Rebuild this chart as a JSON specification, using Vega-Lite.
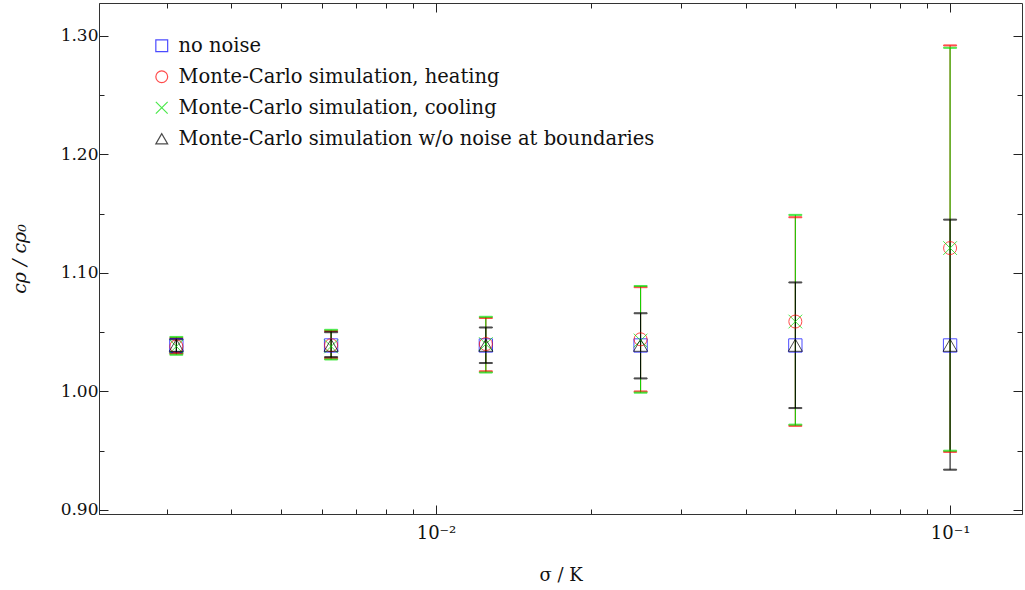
{
  "$schema": "https://vega.github.io/schema/vega-lite/v6.json",
  "width": 923,
  "height": 511,
  "autosize": "none",
  "padding": {"left": 99, "top": 3, "right": 3, "bottom": 76},
  "background": "white",
  "config": {
    "font": "DejaVu Serif",
    "view": {"stroke": "#333", "strokeWidth": 1},
    "axis": {"domainColor": "#333", "tickColor": "#222", "labelColor": "#111", "titleColor": "#111", "labelFontSize": 17, "titleFontSize": 18, "titleFontWeight": "normal", "grid": false, "labelFont": "DejaVu Serif", "titleFont": "DejaVu Serif"},
    "legend": {"labelFont": "DejaVu Serif"}
  },
  "datasets": {
    "pts": [
      {"series": "no noise", "sigma": 0.003125, "v": 1.0388, "lo": null, "hi": null},
      {"series": "no noise", "sigma": 0.00625, "v": 1.0388, "lo": null, "hi": null},
      {"series": "no noise", "sigma": 0.0125, "v": 1.0388, "lo": null, "hi": null},
      {"series": "no noise", "sigma": 0.025, "v": 1.0388, "lo": null, "hi": null},
      {"series": "no noise", "sigma": 0.05, "v": 1.0388, "lo": null, "hi": null},
      {"series": "no noise", "sigma": 0.1, "v": 1.0388, "lo": null, "hi": null},
      {"series": "Monte-Carlo simulation, heating", "sigma": 0.003125, "v": 1.038, "lo": 1.032, "hi": 1.045},
      {"series": "Monte-Carlo simulation, heating", "sigma": 0.00625, "v": 1.039, "lo": 1.028, "hi": 1.051},
      {"series": "Monte-Carlo simulation, heating", "sigma": 0.0125, "v": 1.040, "lo": 1.017, "hi": 1.062},
      {"series": "Monte-Carlo simulation, heating", "sigma": 0.025, "v": 1.044, "lo": 1.000, "hi": 1.088},
      {"series": "Monte-Carlo simulation, heating", "sigma": 0.05, "v": 1.059, "lo": 0.971, "hi": 1.147},
      {"series": "Monte-Carlo simulation, heating", "sigma": 0.1, "v": 1.121, "lo": 0.949, "hi": 1.292},
      {"series": "Monte-Carlo simulation, cooling", "sigma": 0.003125, "v": 1.038, "lo": 1.031, "hi": 1.046},
      {"series": "Monte-Carlo simulation, cooling", "sigma": 0.00625, "v": 1.038, "lo": 1.027, "hi": 1.052},
      {"series": "Monte-Carlo simulation, cooling", "sigma": 0.0125, "v": 1.040, "lo": 1.016, "hi": 1.063},
      {"series": "Monte-Carlo simulation, cooling", "sigma": 0.025, "v": 1.043, "lo": 0.999, "hi": 1.089},
      {"series": "Monte-Carlo simulation, cooling", "sigma": 0.05, "v": 1.059, "lo": 0.972, "hi": 1.149},
      {"series": "Monte-Carlo simulation, cooling", "sigma": 0.1, "v": 1.121, "lo": 0.950, "hi": 1.290},
      {"series": "Monte-Carlo simulation w/o noise at boundaries", "sigma": 0.003125, "v": 1.039, "lo": 1.033, "hi": 1.044},
      {"series": "Monte-Carlo simulation w/o noise at boundaries", "sigma": 0.00625, "v": 1.039, "lo": 1.029, "hi": 1.050},
      {"series": "Monte-Carlo simulation w/o noise at boundaries", "sigma": 0.0125, "v": 1.039, "lo": 1.024, "hi": 1.054},
      {"series": "Monte-Carlo simulation w/o noise at boundaries", "sigma": 0.025, "v": 1.039, "lo": 1.011, "hi": 1.066},
      {"series": "Monte-Carlo simulation w/o noise at boundaries", "sigma": 0.05, "v": 1.039, "lo": 0.986, "hi": 1.092},
      {"series": "Monte-Carlo simulation w/o noise at boundaries", "sigma": 0.1, "v": 1.039, "lo": 0.934, "hi": 1.145}
    ]
  },
  "data": {"name": "pts"},
  "resolve": {"axis": {"x": "independent", "y": "independent"}},
  "layer": [
    {
      "transform": [{"filter": "datum.lo != null"}],
      "mark": {"type": "rule", "strokeWidth": 1},
      "encoding": {
        "x": {"field": "sigma", "type": "quantitative", "scale": {"type": "log", "domain": [0.00221, 0.138], "nice": false},
          "axis": {"orient": "bottom", "title": "σ / K", "titlePadding": 20, "values": [0.003,0.004,0.005,0.006,0.007,0.008,0.009,0.01,0.02,0.03,0.04,0.05,0.06,0.07,0.08,0.09,0.1],
            "labelExpr": "datum.value === 0.01 ? '10⁻²' : (datum.value === 0.1 ? '10⁻¹' : '')",
            "tickSize": {"condition": {"test": "datum.value === 0.01 || datum.value === 0.1", "value": -9}, "value": -5},
            "labelPadding": 19, "labelFontSize": 18, "labelFlush": false, "labelOverlap": false}},
        "y": {"field": "lo", "type": "quantitative", "scale": {"domain": [0.8966, 1.3278], "nice": false, "zero": false},
          "axis": {"orient": "left", "title": "cρ / cρ₀", "titleFontStyle": "italic", "titleFontSize": 19, "titlePadding": 31, "values": [0.9,0.95,1.0,1.05,1.1,1.15,1.2,1.25,1.3],
            "labelExpr": "abs(datum.value*10 - round(datum.value*10)) < 0.001 ? format(datum.value, '.2f') : ''",
            "tickSize": {"condition": {"test": "abs(datum.value*10 - round(datum.value*10)) < 0.001", "value": -9}, "value": -5},
            "labelPadding": 10, "labelOverlap": false}},
        "y2": {"field": "hi"},
        "stroke": {"field": "series", "type": "nominal", "legend": null,
          "scale": {"domain": ["Monte-Carlo simulation, heating", "Monte-Carlo simulation, cooling", "Monte-Carlo simulation w/o noise at boundaries"], "range": ["#ff0000", "#00e000", "#000000"]}}
      }
    },
    {
      "transform": [{"filter": "datum.lo != null"}],
      "mark": {"type": "tick", "orient": "horizontal", "size": 13, "thickness": 1},
      "encoding": {
        "x": {"field": "sigma", "type": "quantitative", "axis": null},
        "y": {"field": "lo", "type": "quantitative", "axis": null},
        "stroke": {"field": "series", "type": "nominal", "legend": null},
        "fill": {"field": "series", "type": "nominal", "legend": null, "scale": {"domain": ["Monte-Carlo simulation, heating", "Monte-Carlo simulation, cooling", "Monte-Carlo simulation w/o noise at boundaries"], "range": ["#ff0000", "#00e000", "#000000"]}}
      }
    },
    {
      "transform": [{"filter": "datum.lo != null"}],
      "mark": {"type": "tick", "orient": "horizontal", "size": 13, "thickness": 1},
      "encoding": {
        "x": {"field": "sigma", "type": "quantitative", "axis": null},
        "y": {"field": "hi", "type": "quantitative", "axis": null},
        "stroke": {"field": "series", "type": "nominal", "legend": null},
        "fill": {"field": "series", "type": "nominal", "legend": null}
      }
    },
    {
      "mark": {"type": "point", "filled": false, "strokeWidth": 1},
      "encoding": {
        "x": {"field": "sigma", "type": "quantitative", "axis": null},
        "y": {"field": "v", "type": "quantitative", "axis": null},
        "color": {"field": "series", "type": "nominal",
          "scale": {"domain": ["no noise", "Monte-Carlo simulation, heating", "Monte-Carlo simulation, cooling", "Monte-Carlo simulation w/o noise at boundaries"], "range": ["#0000ff", "#ff0000", "#00e000", "#000000"]},
          "legend": {"title": null, "orient": "none", "legendX": 53, "legendY": 33, "labelFontSize": 19.5, "labelColor": "#111", "rowPadding": 10, "labelOffset": 7, "symbolSize": 140, "symbolStrokeWidth": 1.2, "labelLimit": 700}},
        "shape": {"field": "series", "type": "nominal",
          "scale": {"domain": ["no noise", "Monte-Carlo simulation, heating", "Monte-Carlo simulation, cooling", "Monte-Carlo simulation w/o noise at boundaries"], "range": ["square", "circle", "M-1,-1L1,1M-1,1L1,-1", "triangle-up"]},
          "legend": {"title": null, "orient": "none", "legendX": 53, "legendY": 33, "labelFontSize": 19.5, "labelColor": "#111", "rowPadding": 10, "labelOffset": 7, "symbolSize": 140, "symbolStrokeWidth": 1.2, "labelLimit": 700}},
        "size": {"field": "series", "type": "nominal", "legend": null,
          "scale": {"domain": ["Monte-Carlo simulation, heating", "no noise", "Monte-Carlo simulation, cooling", "Monte-Carlo simulation w/o noise at boundaries"], "range": [169, 196, 90, 150]}}
      }
    },
    {
      "mark": {"type": "point", "opacity": 0},
      "encoding": {
        "x": {"field": "sigma", "type": "quantitative",
          "axis": {"orient": "top", "title": null, "labels": false, "domain": false, "values": [0.003,0.004,0.005,0.006,0.007,0.008,0.009,0.01,0.02,0.03,0.04,0.05,0.06,0.07,0.08,0.09,0.1],
            "tickSize": {"condition": {"test": "datum.value === 0.01 || datum.value === 0.1", "value": -9}, "value": -5}}},
        "y": {"field": "v", "type": "quantitative",
          "axis": {"orient": "right", "title": null, "labels": false, "domain": false, "values": [0.9,0.95,1.0,1.05,1.1,1.15,1.2,1.25,1.3],
            "tickSize": {"condition": {"test": "abs(datum.value*10 - round(datum.value*10)) < 0.001", "value": -9}, "value": -5}}}
      }
    }
  ]
}
